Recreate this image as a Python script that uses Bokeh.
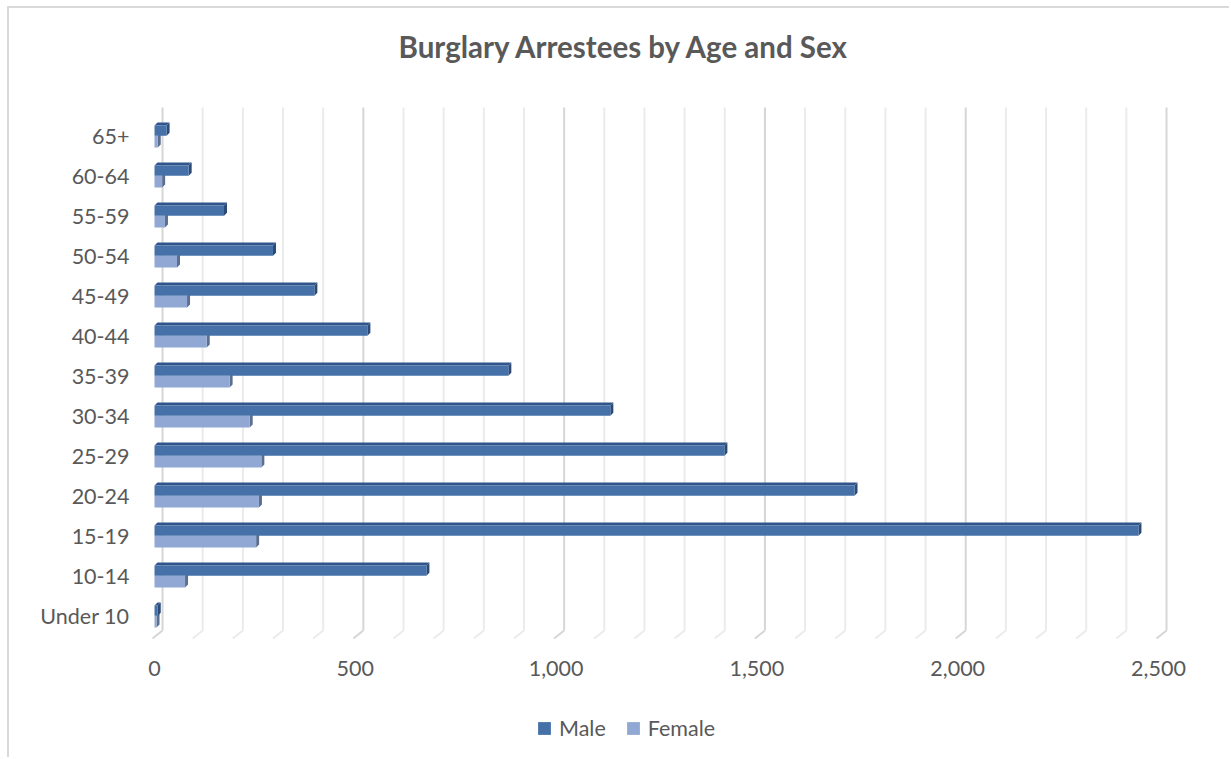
from bokeh.plotting import figure
from bokeh.layouts import column
from bokeh.models import (Range1d, FixedTicker, NumeralTickFormatter, Legend, LegendItem,
                          ColumnDataSource, Title)
from bokeh.embed import file_html
from bokeh.resources import INLINE

# ---- data ----
categories = ["Under 10", "10-14", "15-19", "20-24", "25-29", "30-34", "35-39",
              "40-44", "45-49", "50-54", "55-59", "60-64", "65+"]
male = [8, 677, 2450, 1743, 1419, 1135, 881, 530, 398, 295, 173, 85, 30]
female = [5, 76, 253, 260, 266, 237, 187, 130, 81, 56, 26, 19, 8]
series_names = ["Male", "Female"]
x_ticks = [0, 500, 1000, 1500, 2000, 2500]
minor_step = 100

# ---- style ----
FONT = "Lato"
TXT = "#595959"
MALE_C = "#4571a8"
MALE_TOP = "#30558a"
MALE_SIDE = "#2b4a78"
FEM_C = "#90a8d3"
FEM_SIDE = "#5d6f8f"
BORDER = "2px solid #d9d9d9"

p = figure(width=1222, height=692, output_backend="svg", toolbar_location=None,
           x_range=Range1d(-34.9, 2554.8), y_range=Range1d(-0.743, 12.883),
           min_border_left=131, min_border_right=51, min_border_top=92, min_border_bottom=55,
           outline_line_color=None, background_fill_color="white", border_fill_color="white")
p.styles = {"margin-left": "7px", "margin-top": "6px",
            "border-left": BORDER, "border-top": BORDER}

p.xgrid.visible = False
p.ygrid.visible = False

# ---- 3D-ish gridlines (back wall + floor) ----
d_units = 7.5     # depth offset in x (data units)
e_units = 0.075   # depth offset in y (category units)
back_off = 20
front_off = -5
y_top, y_floor, y_front = 12.71, -0.37, -0.57
grid_vals = list(range(0, x_ticks[-1] + 1, minor_step))
maj = [v for v in grid_vals if v in x_ticks]
mnr = [v for v in grid_vals if v not in x_ticks]
for vals, col in ((mnr, "#ebebeb"), (maj, "#d6d6d6")):
    xs = [v + back_off for v in vals]
    p.segment(x0=xs, y0=[y_top] * len(xs), x1=xs, y1=[y_floor] * len(xs),
              line_color=col, line_width=2)
    p.segment(x0=xs, y0=[y_floor] * len(xs), x1=[v + front_off for v in vals],
              y1=[y_front] * len(xs), line_color=col, line_width=2)

# ---- bars ----
ypos = list(range(len(categories)))
mh = 0.255   # male front height
fh = 0.29    # female front height

def side_face(vals, y0s, y1s):
    xs, ys = [], []
    for v, a, b in zip(vals, y0s, y1s):
        xs.append([v, v, v + d_units, v + d_units])
        ys.append([a, b, b + e_units, a + e_units])
    return xs, ys

def top_face(vals, ytops):
    xs, ys = [], []
    for v, t in zip(vals, ytops):
        xs.append([0, v, v + d_units, d_units])
        ys.append([t, t, t + e_units, t + e_units])
    return xs, ys

# female
fsrc = ColumnDataSource(dict(y=[c - fh / 2 for c in ypos], right=female))
fxs, fys = side_face(female, [c - fh for c in ypos], ypos)
p.patches(fxs, fys, fill_color=FEM_SIDE, line_color=None)
p.hbar(y="y", right="right", left=0, height=fh, source=fsrc,
       fill_color=FEM_C, line_color=None)

# male
msrc = ColumnDataSource(dict(y=[c + mh / 2 for c in ypos], right=male))
mxs, mys = side_face(male, ypos, [c + mh for c in ypos])
p.patches(mxs, mys, fill_color=MALE_SIDE, line_color=None)
txs, tys = top_face(male, [c + mh for c in ypos])
p.patches(txs, tys, fill_color=MALE_TOP, line_color=None)
p.hbar(y="y", right="right", left=0, height=mh, source=msrc,
       fill_color=MALE_C, line_color=None)

# ---- axes ----
p.xaxis.ticker = FixedTicker(ticks=x_ticks)
p.xaxis.formatter = NumeralTickFormatter(format="0,0")
p.yaxis.ticker = FixedTicker(ticks=ypos)
p.yaxis.major_label_overrides = {i: c for i, c in enumerate(categories)}
for ax in (p.xaxis[0], p.yaxis[0]):
    ax.axis_line_color = None
    ax.major_tick_line_color = None
    ax.minor_tick_line_color = None
    ax.major_label_text_font = FONT
    ax.major_label_text_font_size = "21.5px"
    ax.major_label_text_color = TXT
p.xaxis.major_label_standoff = 9
p.yaxis.major_label_standoff = 5

# ---- title (with an empty spacer panel between it and the plot area) ----
p.title = Title(text="Burglary Arrestees by Age and Sex", align="left", offset=258,
                text_font=FONT, text_font_size="29.5px", text_font_style="bold",
                text_color=TXT, standoff=25)
p.add_layout(Title(text=" ", text_font_size="20px", standoff=0), "above")

# ---- legend (separate strip below the chart) ----
lf = figure(width=1222, height=59, output_backend="svg", toolbar_location=None,
            x_axis_location=None, y_axis_location=None,
            x_range=Range1d(-3, -2), y_range=Range1d(40, 41),
            min_border=0, outline_line_color=None,
            background_fill_color="white", border_fill_color="white")
lf.styles = {"margin-left": "7px", "border-left": BORDER}
lf.xgrid.visible = False
lf.ygrid.visible = False
# the same series, drawn outside this strip's visible range: only their legend swatches show
lm = lf.hbar(y="y", right="right", left=0, height=mh, source=msrc,
             fill_color=MALE_C, line_color=None)
lfe = lf.hbar(y="y", right="right", left=0, height=fh, source=fsrc,
              fill_color=FEM_C, line_color=None)
legend = Legend(items=[LegendItem(label=series_names[0], renderers=[lm]),
                       LegendItem(label=series_names[1], renderers=[lfe])],
                orientation="horizontal", location=(396, 16),
                label_text_font=FONT, label_text_font_size="21.5px", label_text_color=TXT,
                glyph_width=16, glyph_height=16, label_standoff=7, spacing=19,
                padding=0, margin=0, border_line_color=None, background_fill_alpha=0)
lf.add_layout(legend, "center")

layout = column(p, lf, spacing=0)
open("out.html", "w").write(file_html(layout, INLINE))
